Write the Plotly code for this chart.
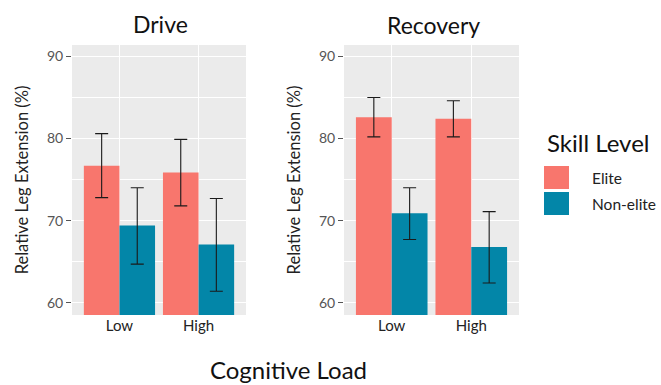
import plotly.graph_objects as go

loads = ["Low", "High"]
panels = ["Drive", "Recovery"]
skill_levels = ["Elite", "Non-elite"]
colors = {"Elite": "#F8766D", "Non-elite": "#0386A8"}

# values per load (Low, High)
drive_elite = [76.7, 75.85]
drive_elite_hi = [80.6, 79.9]
drive_elite_lo = [72.8, 71.8]
drive_nonelite = [69.4, 67.1]
drive_nonelite_hi = [74.0, 72.7]
drive_nonelite_lo = [64.7, 61.4]

rec_elite = [82.6, 82.4]
rec_elite_hi = [85.0, 84.6]
rec_elite_lo = [80.2, 80.2]
rec_nonelite = [70.9, 66.8]
rec_nonelite_hi = [74.0, 71.1]
rec_nonelite_lo = [67.7, 62.4]

y_ticks = [60, 70, 80, 90]

data = {
    ("Drive", "Elite"): (drive_elite, drive_elite_hi, drive_elite_lo),
    ("Drive", "Non-elite"): (drive_nonelite, drive_nonelite_hi, drive_nonelite_lo),
    ("Recovery", "Elite"): (rec_elite, rec_elite_hi, rec_elite_lo),
    ("Recovery", "Non-elite"): (rec_nonelite, rec_nonelite_hi, rec_nonelite_lo),
}

W, H = 661, 385
FONT = "Lato, Carlito, Open Sans, sans-serif"

fig = go.Figure()
axes = [("x", "y"), ("x2", "y2")]
for i, p in enumerate(panels):
    xa, ya = axes[i]
    for s in skill_levels:
        v, hi, lo = data[(p, s)]
        fig.add_trace(go.Bar(
            x=loads, y=v, name=s, xaxis=xa, yaxis=ya,
            marker=dict(color=colors[s], line=dict(width=0)),
            offsetgroup=s, showlegend=False,
            error_y=dict(type="data", symmetric=False,
                         array=[h - a for h, a in zip(hi, v)],
                         arrayminus=[a - l for a, l in zip(v, lo)],
                         color="#1a1a1a", thickness=1.1, width=6.5),
        ))

def px_x(v):
    return v / W

def px_y(v):
    return 1 - v / H

ydom = [px_y(315), px_y(45)]
xdoms = [[px_x(72), px_x(246)], [px_x(344), px_x(519)]]

common_y = dict(range=[58.5, 91.4], tickvals=y_ticks, ticks="outside", ticklen=5,
                tickcolor="#555555", tickwidth=1,
                tickfont=dict(family=FONT, size=14, color="#555555"),
                showgrid=True, gridcolor="white", gridwidth=1.2,
                minor=dict(dtick=5, tick0=0, showgrid=True, gridcolor="white", gridwidth=0.5, ticks=""),
                zeroline=False, showline=False, domain=ydom,
                title=dict(text="Relative Leg Extension (%)", font=dict(family=FONT, size=16.5, color="#222222"), standoff=14))
common_x = dict(type="category", range=[-0.6, 1.6], ticks="", showgrid=True, gridcolor="white", gridwidth=1.2,
                tickfont=dict(family=FONT, size=15, color="#222222"), zeroline=False, showline=False)

fig.update_layout(
    width=W, height=H, margin=dict(l=0, r=0, t=0, b=0),
    paper_bgcolor="white", plot_bgcolor="#EBEBEB",
    barmode="group", bargap=0.1, bargroupgap=0,
    xaxis=dict(**common_x, domain=xdoms[0], anchor="y"),
    xaxis2=dict(**common_x, domain=xdoms[1], anchor="y2"),
    yaxis=dict(**common_y, anchor="x"),
    yaxis2=dict(**common_y, anchor="x2"),
    showlegend=False,
    font=dict(family=FONT),
)

annots = [
    dict(text="Drive", x=px_x(160), y=px_y(24), font=dict(size=23, color="#111111")),
    dict(text="Recovery", x=px_x(433), y=px_y(25), font=dict(size=23, color="#111111")),
    dict(text="Cognitive Load", x=px_x(288), y=px_y(369), font=dict(size=24, color="#111111")),
    dict(text="Skill Level", x=px_x(545), y=px_y(142), xanchor="left", font=dict(size=24, color="#111111")),
]
for a in annots:
    a.setdefault("xanchor", "center")
    fig.add_annotation(xref="paper", yref="paper", showarrow=False, yanchor="middle",
                       font=dict(family=FONT, **a.pop("font")), **a)

key_y = [(166, 189), (192, 215)]
for s, (y0, y1) in zip(skill_levels, key_y):
    fig.add_shape(type="rect", xref="paper", yref="paper",
                  x0=px_x(544), x1=px_x(569), y0=px_y(y1), y1=px_y(y0),
                  fillcolor=colors[s], line=dict(width=0))
    fig.add_annotation(xref="paper", yref="paper", showarrow=False, text=s,
                       x=px_x(590), y=px_y((y0 + y1) / 2), xanchor="left", yanchor="middle",
                       font=dict(family=FONT, size=15.5, color="#222222"))

fig.write_html("out.html", config={"displayModeBar": False},
               post_script="document.body.style.margin='0';document.body.style.overflow='hidden';")
